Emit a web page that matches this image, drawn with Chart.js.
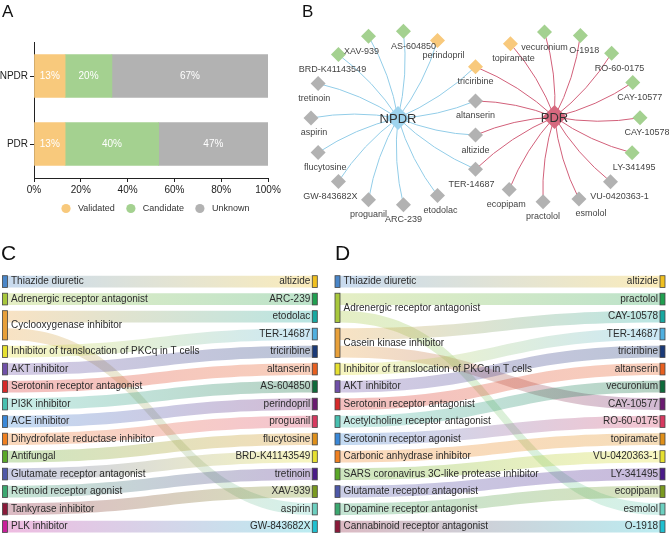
<!DOCTYPE html>
<html>
<head>
<meta charset="utf-8">
<script src="https://cdn.jsdelivr.net/npm/chart.js@4.4.0/dist/chart.umd.min.js"></script>
<style>
    html, body { margin: 0; padding: 0; background: #fff; }
    #wrap { position: relative; width: 669px; height: 534px; overflow: hidden; }
    canvas { position: absolute; }
</style>
</head>
<body>
<div id="wrap">
    <canvas id="chart-a" width="285" height="230" style="left:0;top:0"></canvas>
    <canvas id="chart-b" width="384" height="230" style="left:285px;top:0"></canvas>
    <canvas id="chart-c" width="330" height="304" style="left:0;top:230px"></canvas>
    <canvas id="chart-d" width="339" height="304" style="left:330px;top:230px"></canvas>
</div>
<script>
// ---- A: share of drugs by status ----
const stages = ['NPDR', 'PDR'];
const statusNames = ['Validated', 'Candidate', 'Unknown'];
const validatedPct = [13.3, 13.3];
const candidatePct = [20.0, 40.0];
const unknownPct = [66.7, 46.7];
const pctTicks = [0, 20, 40, 60, 80, 100];

// ---- B: network (ring order around each hub) ----
const npdrOnly = ['perindopril', 'AS-604850', 'XAV-939', 'BRD-K41143549', 'tretinoin', 'aspirin',
    'flucytosine', 'GW-843682X', 'proguanil', 'ARC-239', 'etodolac'];
const pdrOnly = ['topiramate', 'vecuronium', 'O-1918', 'RO-60-0175', 'CAY-10577', 'CAY-10578',
    'LY-341495', 'VU-0420363-1', 'esmolol', 'practolol', 'ecopipam'];
const sharedDrugs = ['triciribine', 'altanserin', 'altizide', 'TER-14687'];
const validatedDrugs = ['perindopril', 'triciribine', 'topiramate'];
const candidateDrugs = ['XAV-939', 'AS-604850', 'BRD-K41143549', 'vecuronium', 'O-1918',
    'RO-60-0175', 'CAY-10577', 'CAY-10578', 'LY-341495'];

// ---- C / D: mechanism -> drug ----
const npdrTargets = ['altizide', 'ARC-239', 'etodolac', 'TER-14687', 'triciribine', 'altanserin',
    'AS-604850', 'perindopril', 'proguanil', 'flucytosine', 'BRD-K41143549', 'tretinoin',
    'XAV-939', 'aspirin', 'GW-843682X'];
const npdrLinks = [
    ['Thiazide diuretic', 'altizide'],
    ['Adrenergic receptor antagonist', 'ARC-239'],
    ['Cyclooxygenase inhibitor', 'etodolac'],
    ['Cyclooxygenase inhibitor', 'aspirin'],
    ['Inhibitor of translocation of PKCq in T cells', 'TER-14687'],
    ['AKT inhibitor', 'triciribine'],
    ['Serotonin receptor antagonist', 'altanserin'],
    ['PI3K inhibitor', 'AS-604850'],
    ['ACE inhibitor', 'perindopril'],
    ['Dihydrofolate reductase inhibitor', 'proguanil'],
    ['Antifungal', 'flucytosine'],
    ['Glutamate receptor antagonist', 'BRD-K41143549'],
    ['Retinoid receptor agonist', 'tretinoin'],
    ['Tankyrase inhibitor', 'XAV-939'],
    ['PLK inhibitor', 'GW-843682X'],
];
const pdrTargets = ['altizide', 'practolol', 'CAY-10578', 'TER-14687', 'triciribine', 'altanserin',
    'vecuronium', 'CAY-10577', 'RO-60-0175', 'topiramate', 'VU-0420363-1', 'LY-341495',
    'ecopipam', 'esmolol', 'O-1918'];
const pdrLinks = [
    ['Thiazide diuretic', 'altizide'],
    ['Adrenergic receptor antagonist', 'practolol'],
    ['Adrenergic receptor antagonist', 'esmolol'],
    ['Casein kinase inhibitor', 'CAY-10578'],
    ['Casein kinase inhibitor', 'CAY-10577'],
    ['Inhibitor of translocation of PKCq in T cells', 'TER-14687'],
    ['AKT inhibitor', 'triciribine'],
    ['Serotonin receptor antagonist', 'altanserin'],
    ['Acetylcholine receptor antagonist', 'vecuronium'],
    ['Serotonin receptor agonist', 'RO-60-0175'],
    ['Carbonic anhydrase inhibitor', 'topiramate'],
    ['SARS coronavirus 3C-like protease inhibitor', 'VU-0420363-1'],
    ['Glutamate receptor antagonist', 'LY-341495'],
    ['Dopamine receptor antagonist', 'ecopipam'],
    ['Cannabinoid receptor antagonist', 'O-1918'],
];

// styles
const FONT = "'Liberation Sans', Arial, Helvetica, sans-serif";
const statusColors = ['#f8c97c', '#a4d190', '#b2b2b2'];
const hubColors = { NPDR: '#9fd4ee', PDR: '#d6697f' };
const edgeColors = { NPDR: '#92cde8', PDR: '#d2607a' };
const leftPalette = ['#4a86c8', '#a8c83c', '#e8a03a', '#e6e030', '#7050a8', '#d62a2a', '#48c0b0',
    '#3a88d8', '#f08020', '#5aa828', '#4e58a8', '#3ca870', '#8a1a3a', '#c8209a'];
const rightPalette = ['#f0c020', '#20a050', '#18a8a0', '#50b0e0', '#1a3a78', '#e86020', '#0e6a3a',
    '#6a1a70', '#d83a60', '#e0901a', '#e6e030', '#4a1a88', '#7a9a20', '#6cd0c0', '#20c0d0'];
const labelNudge = { 'XAV-939': -7, 'AS-604850': 10, 'perindopril': 6, 'BRD-K41143549': -6,
    'tretinoin': -4, 'aspirin': 3, 'flucytosine': 7, 'GW-843682X': -8, 'etodolac': 3,
    'TER-14687': -4, 'topiramate': 3, 'O-1918': 4, 'RO-60-0175': 8, 'CAY-10577': 7,
    'CAY-10578': 7, 'LY-341495': 2, 'VU-0420363-1': 9, 'esmolol': 12, 'ecopipam': -3 };

Chart.defaults.font.family = FONT;
Chart.defaults.animation = false;

const rgba = (hex, a) => {
    const n = parseInt(hex.slice(1), 16);
    return `rgba(${n >> 16},${(n >> 8) & 255},${n & 255},${a})`;
};

const panelTag = (letter, x, y, size) => ({
    id: 'tag' + letter,
    afterDraw(chart) {
        const ctx = chart.ctx;
        ctx.save();
        ctx.font = `${size}px ${FONT}`;
        ctx.fillStyle = '#111';
        ctx.textBaseline = 'alphabetic';
        ctx.fillText(letter, x, y);
        ctx.restore();
    }
});

// ================= A =================
const barText = {
    id: 'barText',
    afterDatasetsDraw(chart) {
        const ctx = chart.ctx;
        ctx.save();
        ctx.font = `10px ${FONT}`;
        ctx.fillStyle = '#fff';
        ctx.textAlign = 'center';
        ctx.textBaseline = 'middle';
        chart.data.datasets.forEach((ds, i) => {
            chart.getDatasetMeta(i).data.forEach((bar, j) => {
                ctx.fillText(Math.round(ds.data[j]) + '%', (bar.x + bar.base) / 2, bar.y);
            });
        });
        ctx.restore();
    }
};

const statusLegend = {
    id: 'statusLegend',
    afterDraw(chart) {
        const ctx = chart.ctx;
        ctx.save();
        ctx.font = `9px ${FONT}`;
        ctx.textBaseline = 'middle';
        let x = 66;
        const y = 208.5;
        statusNames.forEach((name, i) => {
            ctx.fillStyle = statusColors[i];
            ctx.beginPath();
            ctx.arc(x, y, 4.6, 0, Math.PI * 2);
            ctx.fill();
            ctx.fillStyle = '#333';
            ctx.fillText(name, x + 12, y);
            x += 12 + ctx.measureText(name).width + 16;
        });
        ctx.restore();
    }
};

new Chart(document.getElementById('chart-a'), {
    type: 'bar',
    data: {
        labels: stages,
        datasets: [validatedPct, candidatePct, unknownPct].map((d, i) => ({
            label: statusNames[i],
            data: d,
            backgroundColor: statusColors[i],
            borderWidth: 0,
            barThickness: 43,
        })),
    },
    options: {
        indexAxis: 'y',
        responsive: false,
        layout: { padding: { top: 42, right: 17, left: 0, bottom: 0 } },
        plugins: { legend: { display: false }, tooltip: { enabled: false } },
        scales: {
            x: {
                stacked: true, min: 0, max: 100,
                afterBuildTicks: (s) => { s.ticks = pctTicks.map(v => ({ value: v })); },
                ticks: { callback: v => v + '%', color: '#222', font: { size: 10 }, padding: 2, maxRotation: 0, autoSkip: false },
                grid: { drawOnChartArea: false, tickLength: 4, color: '#222' },
                border: { color: '#222' },
                afterFit: (s) => { s.height = 52; },
            },
            y: {
                stacked: true,
                ticks: { color: '#222', font: { size: 10 }, padding: 2 },
                grid: { drawOnChartArea: false, tickLength: 4, color: '#222', offset: false },
                border: { color: '#222' },
                afterFit: (s) => { s.width = 34; },
            },
        },
    },
    plugins: [barText, statusLegend, panelTag('A', 2, 17, 17)],
});

// ================= B =================
const hubs = { NPDR: { x: 113, y: 118 }, PDR: { x: 269.5, y: 117 } };
const nodePos = {};
const ring = (names, hub, startDeg, stepDeg, radius) => {
    names.forEach((n, i) => {
        const a = (startDeg + i * stepDeg) * Math.PI / 180;
        nodePos[n] = { x: hub.x + radius * Math.cos(a), y: hub.y + radius * Math.sin(a) };
    });
};
ring(npdrOnly, hubs.NPDR, -63, -23.4, 87);
ring(pdrOnly, hubs.PDR, -121, 24.3, 85.5);
sharedDrugs.forEach((n, i) => { nodePos[n] = { x: 190.5, y: 66.7 + i * 34.2 }; });

const hubDrugs = {
    NPDR: npdrOnly.concat(sharedDrugs),
    PDR: pdrOnly.concat(sharedDrugs),
};
const statusOf = (n) => validatedDrugs.includes(n) ? 0 : candidateDrugs.includes(n) ? 1 : 2;
const allDrugs = Object.keys(nodePos);

const edgePlugin = {
    id: 'edges',
    beforeDatasetsDraw(chart) {
        const { ctx, scales: { x, y } } = chart;
        ctx.save();
        ctx.lineWidth = 1;
        Object.keys(hubDrugs).forEach(h => {
            ctx.strokeStyle = edgeColors[h];
            const hx = x.getPixelForValue(hubs[h].x), hy = y.getPixelForValue(hubs[h].y);
            hubDrugs[h].forEach(n => {
                const nx = x.getPixelForValue(nodePos[n].x), ny = y.getPixelForValue(nodePos[n].y);
                const mx = (hx + nx) / 2, my = (hy + ny) / 2;
                const k = 0.09;
                ctx.beginPath();
                ctx.moveTo(hx, hy);
                ctx.quadraticCurveTo(mx - (ny - hy) * k, my + (nx - hx) * k, nx, ny);
                ctx.stroke();
            });
        });
        ctx.restore();
    }
};

const nodeLabels = {
    id: 'nodeLabels',
    afterDatasetsDraw(chart) {
        const { ctx, scales: { x, y } } = chart;
        ctx.save();
        ctx.textAlign = 'center';
        ctx.textBaseline = 'middle';
        ctx.font = `9px ${FONT}`;
        ctx.fillStyle = '#444';
        allDrugs.forEach(n => {
            ctx.fillText(n, x.getPixelForValue(nodePos[n].x) + (labelNudge[n] || 0), y.getPixelForValue(nodePos[n].y) + 15);
        });
        ctx.font = `13px ${FONT}`;
        ctx.fillStyle = '#333';
        Object.keys(hubs).forEach(h => {
            ctx.fillText(h, x.getPixelForValue(hubs[h].x), y.getPixelForValue(hubs[h].y) + 1);
        });
        ctx.restore();
    }
};

new Chart(document.getElementById('chart-b'), {
    type: 'scatter',
    data: {
        datasets: statusNames.map((name, i) => ({
            label: name,
            data: allDrugs.filter(n => statusOf(n) === i).map(n => ({ x: nodePos[n].x, y: nodePos[n].y })),
            pointStyle: 'rectRot',
            pointRadius: 7.5,
            pointBorderWidth: 0,
            backgroundColor: statusColors[i],
            clip: false,
        })).concat([{
            label: 'hubs',
            data: Object.keys(hubs).map(h => hubs[h]),
            pointStyle: 'rectRot',
            pointRadius: 12,
            pointBorderWidth: 0,
            backgroundColor: Object.keys(hubs).map(h => hubColors[h]),
            clip: false,
        }]),
    },
    options: {
        responsive: false,
        layout: { padding: 0, autoPadding: false },
        plugins: { legend: { display: false }, tooltip: { enabled: false } },
        scales: {
            x: { type: 'linear', min: 0, max: 384, display: false },
            y: { type: 'linear', min: 0, max: 230, reverse: true, display: false },
        },
    },
    plugins: [edgePlugin, nodeLabels, panelTag('B', 17, 17, 17)],
});

// ================= C / D =================
const SLOT = 0.67; // share of a row used by a bar

function makeSankey(links, targets) {
    const groups = [];
    links.forEach(([src], i) => {
        const last = groups[groups.length - 1];
        if (last && last.name === src) last.end = i;
        else groups.push({ name: src, start: i, end: i });
    });
    return {
        id: 'sankey',
        beforeDatasetsDraw(chart) {
            const { ctx, scales: { x, y } } = chart;
            const x0 = x.getPixelForValue(0), x1 = x.getPixelForValue(1), xm = (x0 + x1) / 2;
            ctx.save();
            links.forEach(([src, dst], i) => {
                const gi = groups.findIndex(g => g.name === src);
                const ti = targets.indexOf(dst);
                const ya = y.getPixelForValue(i), yb = y.getPixelForValue(ti);
                const h = y.getPixelForValue(i + SLOT) - ya;
                const grad = ctx.createLinearGradient(x0, 0, x1, 0);
                grad.addColorStop(0, rgba(leftPalette[gi], 0.3));
                grad.addColorStop(1, rgba(rightPalette[ti], 0.3));
                ctx.fillStyle = grad;
                ctx.beginPath();
                ctx.moveTo(x0, ya);
                ctx.bezierCurveTo(xm, ya, xm, yb, x1, yb);
                ctx.lineTo(x1, yb + h);
                ctx.bezierCurveTo(xm, yb + h, xm, ya + h, x0, ya + h);
                ctx.closePath();
                ctx.fill();
            });

            ctx.lineWidth = 0.8;
            ctx.strokeStyle = '#444';
            ctx.font = `10px ${FONT}`;
            ctx.textBaseline = 'middle';
            groups.forEach((g, gi) => {
                const top = y.getPixelForValue(g.start), bot = y.getPixelForValue(g.end + SLOT);
                ctx.fillStyle = leftPalette[gi];
                ctx.fillRect(x0 - 5, top, 5, bot - top);
                ctx.strokeRect(x0 - 5, top, 5, bot - top);
                ctx.fillStyle = '#2c2c2c';
                ctx.textAlign = 'left';
                ctx.fillText(g.name, x0 + 3.5, (top + bot) / 2);
            });
            targets.forEach((t, ti) => {
                const top = y.getPixelForValue(ti), bot = y.getPixelForValue(ti + SLOT);
                ctx.fillStyle = rightPalette[ti];
                ctx.fillRect(x1, top, 5, bot - top);
                ctx.strokeRect(x1, top, 5, bot - top);
                ctx.fillStyle = '#2c2c2c';
                ctx.textAlign = 'right';
                ctx.fillText(t, x1 - 2, (top + bot) / 2);
            });
            ctx.restore();
        }
    };
}

const sankeyOptions = (pad) => ({
    responsive: false,
    layout: { padding: pad, autoPadding: false },
    plugins: { legend: { display: false }, tooltip: { enabled: false } },
    scales: {
        x: { type: 'linear', min: 0, max: 1, display: false },
        y: { type: 'linear', min: 0, max: 14 + SLOT, reverse: true, display: false },
    },
});

new Chart(document.getElementById('chart-c'), {
    type: 'scatter',
    data: { datasets: [] },
    options: sankeyOptions({ left: 7.5, right: 17.7, top: 45.7, bottom: 1.6 }),
    plugins: [makeSankey(npdrLinks, npdrTargets), panelTag('C', 1, 30, 21)],
});

new Chart(document.getElementById('chart-d'), {
    type: 'scatter',
    data: { datasets: [] },
    options: sankeyOptions({ left: 10, right: 9, top: 45.7, bottom: 1.6 }),
    plugins: [makeSankey(pdrLinks, pdrTargets), panelTag('D', 5, 30, 21)],
});
</script>
</body>
</html>
